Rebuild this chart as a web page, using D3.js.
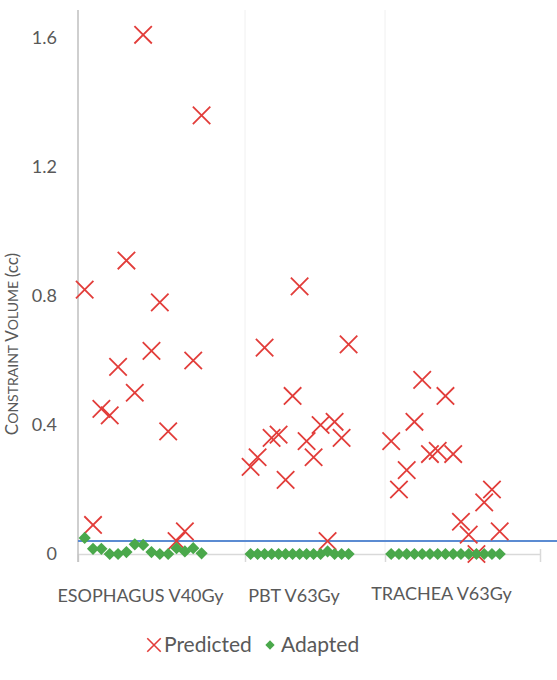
<!DOCTYPE html>
<html lang="en">
<head>
  <meta charset="UTF-8">
  <title>Constraint volume</title>
  <script src="https://d3js.org/d3.v7.min.js"></script>
  <style>
    body { margin: 0; background: #fff; }
    text { font-family: Lato, "Open Sans", sans-serif; fill: #595959; }
  </style>
</head>
<body>
  <svg width="557" height="680"></svg>
  <script>
    // groups along the x axis
    const categories = ["ESOPHAGUS V40Gy", "PBT V63Gy", "TRACHEA V63Gy"];

    // predicted constraint volume (cc), one array per group
    const predictedEsophagus = [0.82, 0.09, 0.45, 0.43, 0.58, 0.91, 0.50, 1.61, 0.63, 0.78, 0.38, 0.04, 0.07, 0.60, 1.36];
    const predictedPBT = [0.27, 0.30, 0.64, 0.36, 0.37, 0.23, 0.49, 0.83, 0.35, 0.30, 0.40, 0.04, 0.41, 0.36, 0.65];
    const predictedTrachea = [0.35, 0.20, 0.26, 0.41, 0.54, 0.31, 0.32, 0.49, 0.31, 0.10, 0.06, 0.00, 0.16, 0.20, 0.07];

    // adapted constraint volume (cc)
    const adaptedEsophagus = [0.05, 0.016, 0.016, 0, 0, 0.006, 0.03, 0.028, 0.006, 0, 0, 0.018, 0.008, 0.018, 0.002];
    const adaptedPBT = [0, 0, 0, 0, 0, 0, 0, 0, 0, 0, 0, 0.008, 0, 0, 0];
    const adaptedTrachea = [0, 0, 0, 0, 0, 0, 0, 0, 0, 0, 0, 0, 0, 0, 0];

    const yTicks = [0, 0.4, 0.8, 1.2, 1.6];
    const threshold = 0.04;

    const predicted = [predictedEsophagus, predictedPBT, predictedTrachea];
    const adapted = [adaptedEsophagus, adaptedPBT, adaptedTrachea];

    const svg = d3.select("svg");
    const red = "#e23d3a", green = "#4aa84b", blue = "#5b8bd2";

    // each group takes 20 slots; the groups do not get the same width on the page
    const x = d3.scaleLinear().domain([0, 20, 40, 60]).range([78, 245, 385, 540]);
    const y = d3.scaleLinear().domain([0, 1.6]).range([554, 38]);
    const slot = (g, i) => g * 20 + i + 0.8;

    // vertical separators
    svg.append("g").selectAll("line")
      .data([20, 40])
      .join("line")
      .attr("x1", d => x(d)).attr("x2", d => x(d))
      .attr("y1", 10).attr("y2", 554)
      .attr("stroke", "#f0f0f0").attr("stroke-width", 1);

    // x axis
    const xAxis = svg.append("g")
      .attr("transform", `translate(0,${y(0)})`)
      .call(d3.axisBottom(x).tickValues([0, 20, 40, 60]).tickFormat("").tickSizeInner(8).tickSizeOuter(0));
    xAxis.select(".domain").attr("stroke", "#d9d9d9").attr("stroke-width", 1.5);
    xAxis.selectAll(".tick line").attr("stroke", "#d9d9d9").attr("stroke-width", 1.5);
    xAxis.selectAll(".tick").filter(d => d === 60).select("line").attr("y1", -5);

    svg.append("g").selectAll("text")
      .data(categories)
      .join("text")
      .attr("x", (d, g) => x(g * 20 + 10) - 21)
      .attr("y", (d, g) => g === 2 ? 600 : 602)
      .attr("text-anchor", "middle")
      .attr("font-size", 18)
      .text(d => d);

    // y axis
    const yAxis = svg.append("g")
      .attr("transform", `translate(${x(0)},0)`)
      .call(d3.axisLeft(y).tickValues(yTicks).tickFormat(d => d === 0 ? "0" : d3.format(".1f")(d)).tickSize(0).tickPadding(21));
    yAxis.select(".domain").remove();
    yAxis.selectAll("text").attr("font-size", 18).style("font-family", "Lato, sans-serif");
    svg.append("line")
      .attr("x1", x(0)).attr("x2", x(0))
      .attr("y1", 10).attr("y2", 562)
      .attr("stroke", "#bfbfbf").attr("stroke-width", 1.5);

    const title = svg.append("text")
      .attr("transform", `translate(18,344) rotate(-90)`)
      .attr("text-anchor", "middle")
      .attr("font-size", 17);
    title.append("tspan").text("C");
    title.append("tspan").attr("font-size", 14).text("ONSTRAINT ");
    title.append("tspan").text("V");
    title.append("tspan").attr("font-size", 14).text("OLUME ");
    title.append("tspan").text("(cc)");

    // threshold line
    svg.append("line")
      .attr("x1", x(0)).attr("x2", 557)
      .attr("y1", y(threshold)).attr("y2", y(threshold))
      .attr("stroke", blue).attr("stroke-width", 2);

    const cross = d3.symbol().type(d3.symbolX).size(200);
    const diamond = d3.symbol().type(d3.symbolDiamond2).size(95);

    // predicted markers
    svg.append("g").selectAll("g")
      .data(predicted)
      .join("g")
      .selectAll("path")
      .data((vals, g) => vals.map((v, i) => ({ g, i, v })))
      .join("path")
      .attr("d", cross)
      .attr("transform", d => `translate(${x(slot(d.g, d.i))},${y(d.v)})`)
      .attr("fill", "none").attr("stroke", red).attr("stroke-width", 1.8);

    // adapted markers
    svg.append("g").selectAll("g")
      .data(adapted)
      .join("g")
      .selectAll("path")
      .data((vals, g) => vals.map((v, i) => ({ g, i, v })))
      .join("path")
      .attr("d", diamond)
      .attr("transform", d => `translate(${x(slot(d.g, d.i))},${y(d.v)})`)
      .attr("fill", green);

    // legend
    const legend = svg.append("g").attr("transform", "translate(0,645)");
    legend.append("path")
      .attr("d", d3.symbol().type(d3.symbolX).size(120))
      .attr("transform", "translate(154,0)")
      .attr("fill", "none").attr("stroke", red).attr("stroke-width", 1.6);
    legend.append("text").attr("x", 164).attr("y", 7).attr("font-size", 21).text("Predicted");
    legend.append("path")
      .attr("d", d3.symbol().type(d3.symbolDiamond2).size(55))
      .attr("transform", "translate(270,0)")
      .attr("fill", green);
    legend.append("text").attr("x", 281).attr("y", 7).attr("font-size", 21).text("Adapted");
  </script>
</body>
</html>
